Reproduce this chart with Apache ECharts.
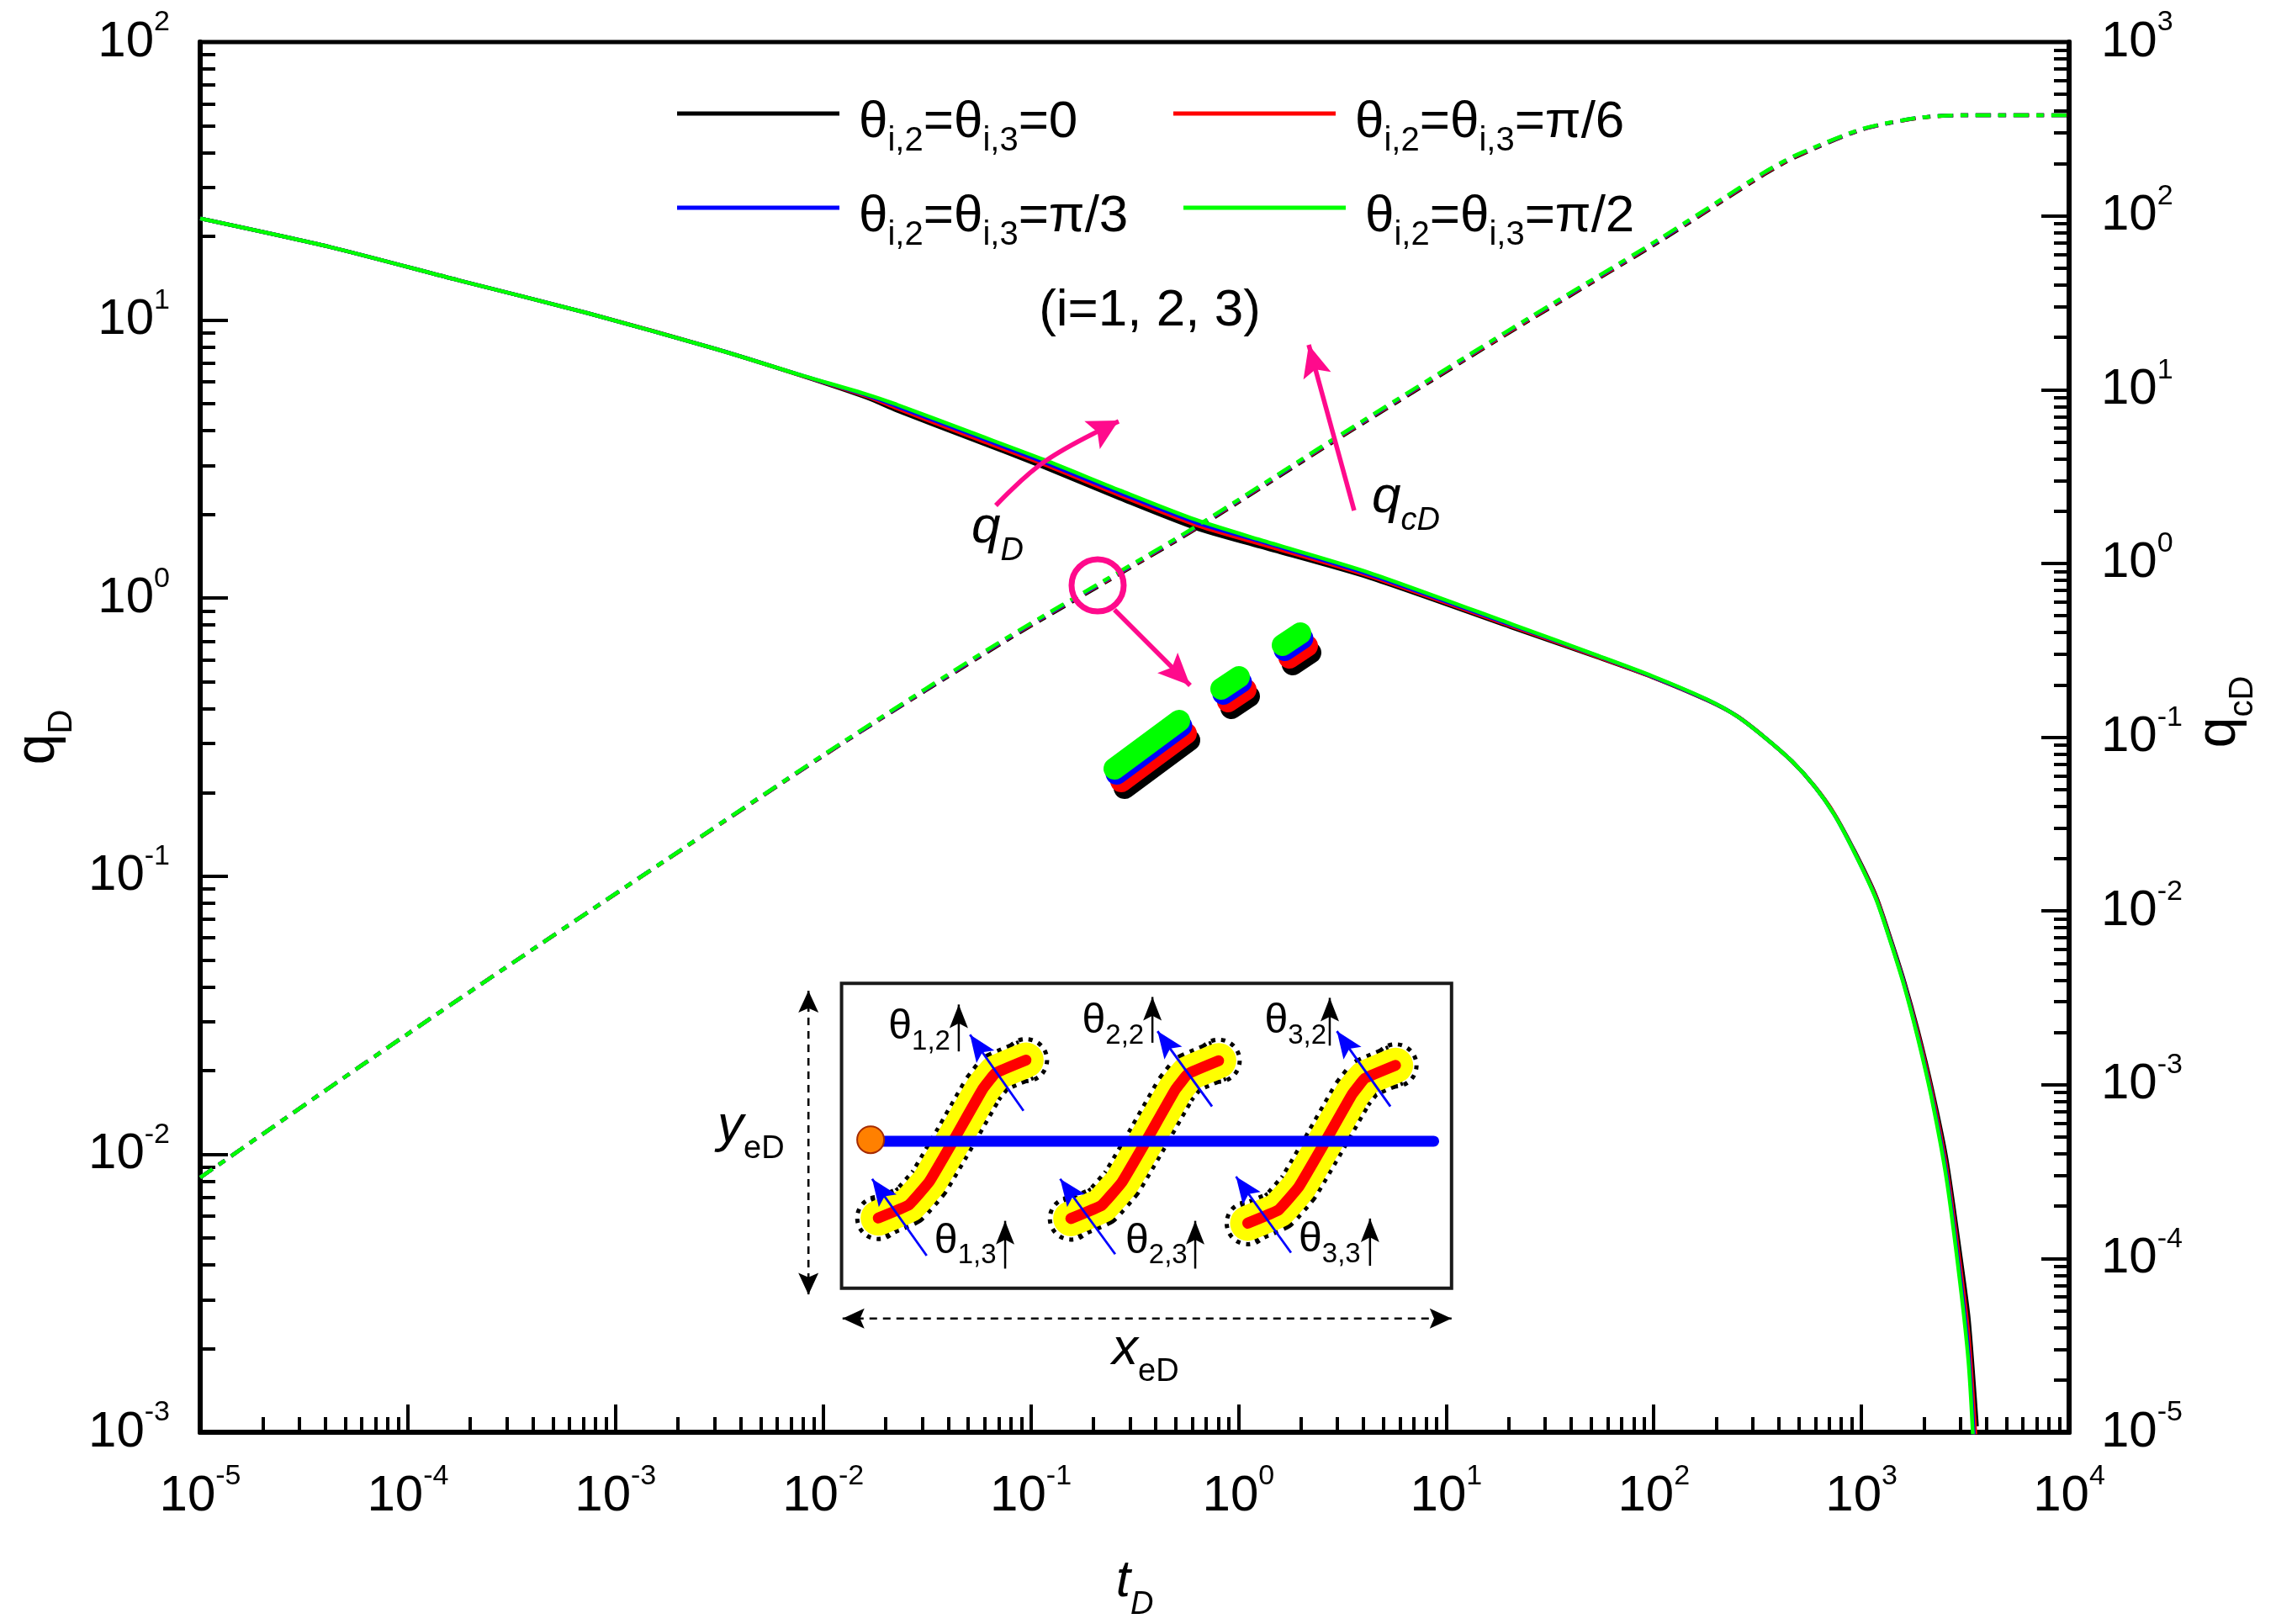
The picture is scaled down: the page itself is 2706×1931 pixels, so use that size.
<!DOCTYPE html>
<html><head><meta charset="utf-8">
<style>html,body{margin:0;padding:0;background:#fff}#c{width:2706px;height:1931px}</style>
<script src="https://cdn.jsdelivr.net/npm/echarts@6/dist/echarts.min.js"></script>
</head><body><div id="c"></div>
<script>
// ---------- data ----------
const tQ = [1e-5,4.24e-5,1.76e-4,7.33e-4,3.05e-3,7.6e-3,0.0163,0.0226,0.0513,0.1165,0.269,0.622,1.274,4.276,21.2,52.9,98.7,182,251,340,463,596,738,931,1175,1377,1614,1875,2195,2570,2985,3273,3436,3600];
const qBlack = [23.2,18.3,13.9,10.6,7.87,6.36,5.25,4.73,3.74,2.95,2.28,1.785,1.53,1.183,0.779,0.614,0.519,0.428,0.377,0.317,0.259,0.210,0.168,0.1223,0.085,0.0602,0.0415,0.0277,0.0170,0.0096,0.00443,0.00264,0.0017,0.00105];
const qRed   = [23.2,18.3,13.9,10.6,7.87,6.37,5.31,4.82,3.81,3.02,2.34,1.835,1.565,1.20,0.787,0.618,0.520,0.429,0.377,0.317,0.259,0.210,0.168,0.1214,0.0843,0.0594,0.0408,0.0270,0.0164,0.00895,0.0040,0.00227,0.00138,0.0008];
const qBlue  = [23.2,18.3,13.9,10.6,7.87,6.38,5.36,4.90,3.89,3.08,2.39,1.874,1.60,1.217,0.795,0.622,0.522,0.430,0.377,0.317,0.259,0.210,0.167,0.1208,0.0833,0.0588,0.0403,0.0263,0.0158,0.00847,0.00367,0.00198,0.00114,0.0006];
const qGreen = [23.2,18.3,13.9,10.6,7.87,6.38,5.40,4.97,3.95,3.14,2.44,1.914,1.62,1.234,0.801,0.624,0.524,0.431,0.377,0.317,0.259,0.210,0.167,0.1205,0.0828,0.0584,0.0398,0.0259,0.01545,0.00813,0.00345,0.00181,0.0010,0.00045];

const tC = [1e-5,6.04e-5,3.6e-4,2.14e-3,0.01268,0.0757,0.587,2.79,21.2,105,340,490,1014,1892,3040,1e4];
const cBlack = [2.92e-4,1.30e-3,5.53e-3,0.0230,0.0937,0.358,1.51,4.91,22.1,70.5,173,220,314,366,379,379];
const cRed   = [2.92e-4,1.30e-3,5.53e-3,0.0230,0.0942,0.363,1.53,4.98,22.4,71.4,175,222,315,366,379,379];
const cBlue  = [2.92e-4,1.30e-3,5.53e-3,0.0231,0.0946,0.366,1.545,5.03,22.7,72.2,177,224,316,367,379,379];
const cGreen = [2.92e-4,1.30e-3,5.53e-3,0.0231,0.0951,0.370,1.56,5.08,22.9,72.9,178,225,317,367,379,379];

const legendNames = ['θi,2=θi,3=0','θi,2=θi,3=π/6','θi,2=θi,3=π/3','θi,2=θi,3=π/2'];
const legendEnds  = ['0','π/6','π/3','π/2'];
const colors = ['#000000','#ff0000','#0000ff','#00ff00'];
const qSeries = [qBlack,qRed,qBlue,qGreen];
const cSeries = [cBlack,cRed,cBlue,cGreen];

// ---------- styling ----------
const FF = '"Liberation Sans",Arial,sans-serif';
const pairs = (xs,ys)=>xs.map((x,i)=>[x,ys[i]]);
const powLabel = v => { const e=Math.round(Math.log10(v)); return '{b|10}{s|'+e+'}'; };
const powRich = {
  b:{fontFamily:FF,fontSize:60,lineHeight:80,color:'#000'},
  s:{fontFamily:FF,fontSize:34,lineHeight:34,verticalAlign:'top',color:'#000'}
};
const series = [];
qSeries.forEach((d,i)=>series.push({name:legendNames[i],type:'line',xAxisIndex:0,yAxisIndex:0,data:pairs(tQ,d),
  symbol:'none',smooth:0.25,z:3+i,lineStyle:{color:colors[i],width:4.5},itemStyle:{color:colors[i]}}));
cSeries.forEach((d,i)=>series.push({name:'qcD '+legendNames[i],type:'line',xAxisIndex:0,yAxisIndex:1,data:pairs(tC,d),
  symbol:'none',smooth:0.25,z:3+i,lineStyle:{color:colors[i],width:4.5,type:[18,9,9,9]},itemStyle:{color:colors[i]}}));

const legendRich = {
  m:{fontFamily:FF,fontSize:62,lineHeight:84,color:'#000'},
  u:{fontFamily:FF,fontSize:40,lineHeight:40,verticalAlign:'bottom',color:'#000'}
};
const legendPos = [[805,115],[1395,115],[805,227],[1407,227]];
const legends = legendNames.map((n,i)=>({
  data:[n],left:legendPos[i][0],top:legendPos[i][1],padding:0,itemWidth:193,itemHeight:5,icon:'rect',selectedMode:false,
  formatter:()=>'{m|θ}{u|i,2}{m|=θ}{u|i,3}{m|='+legendEnds[i]+'}',
  textStyle:{rich:legendRich,padding:[22,0,0,18]}
}));

// ---------- annotation drawing helpers ----------
const Z2=(x,y)=>[820+x/1.6505,1140+y/2.904];
const G=[];
const line=(pts,color,w,extra={},z=20)=>G.push({type:'polyline',z,shape:{points:pts,smooth:extra.smooth||0},style:{stroke:color,fill:null,lineWidth:w,lineCap:extra.cap||'butt',lineJoin:'round',lineDash:extra.dash||null}});
const head=(from,to,L,W,color,z=21,notch=0.8)=>{
  const dx=to[0]-from[0],dy=to[1]-from[1],d=Math.hypot(dx,dy),ux=dx/d,uy=dy/d;
  const bx=to[0]-ux*L,by=to[1]-uy*L,nx=to[0]-ux*L*notch,ny=to[1]-uy*L*notch;
  G.push({type:'polygon',z,shape:{points:[to,[bx-uy*W,by+ux*W],[nx,ny],[bx+uy*W,by-ux*W]]},style:{fill:color}});
};
const arrow=(from,to,color,w,L,W,extra,z=21)=>{line([from,to],color,w,extra||{},z);head(from,to,L,W,color,z+1);};
const label=(x,y,text,rich,z=25)=>G.push({type:'text',z,x,y,style:{text,rich,fill:'#000',align:'left',verticalAlign:'middle',font:'60px '+FF}});

// (i=1, 2, 3)
G.push({type:'text',z:25,x:1367,y:370,style:{text:'(i=1, 2, 3)',fill:'#000',font:'62px '+FF,align:'center',verticalAlign:'middle'}});

// curve annotations
const PINK='#ff0a8c';
line([[1184,601],[1243,548],[1330,501]],PINK,5.5,{smooth:0.4});
head([1243,548],[1330,500],36,19,PINK);
const italicRich=(f,sf,lh)=>({m:{fontFamily:FF,fontStyle:'italic',fontSize:f,lineHeight:lh,color:'#000'},u:{fontFamily:FF,fontStyle:'italic',fontSize:sf,lineHeight:sf,verticalAlign:'bottom',color:'#000'}});
label(1155,628,'{m|q}{u|D}',italicRich(62,38,92));
arrow([1610,607],[1556,410],PINK,5.5,38,17);
label(1631,592,'{m|q}{u|cD}',italicRich(62,38,92));
G.push({type:'circle',z:22,shape:{cx:1305,cy:696,r:31},style:{stroke:PINK,fill:null,lineWidth:7}});
arrow([1325,725],[1415,815],PINK,5.5,38,17);

// magnified stack of the four curves
const blobColors=['#000000','#ff0000','#0000ff','#00ff00'];
const blobOffset=[[12,23],[8,15],[2.5,6],[0,0]];
[[[1325,914],[1402,857]],[[1452,819],[1473,805]],[[1525,767],[1546,753]]].forEach(seg=>{
  blobColors.forEach((c,i)=>{
    const o=blobOffset[i];
    line(seg.map(p=>[p[0]+o[0],p[1]+o[1]]),c,26,{cap:'round'},23+i*0.01);
  });
});

// inset schematic
const [bx0,by0]=Z2(298,85),[bx1,by1]=Z2(1495,1138);
G.push({type:'rect',z:30,shape:{x:bx0,y:by0,width:bx1-bx0,height:by1-by0},style:{fill:'#fff',stroke:'#1a1a1a',lineWidth:4}});
const frac=[[370,895],[430,850],[470,770],[520,620],[575,450],[600,395],[660,350]];
[[0,0],[378,2],[725,18]].forEach(off=>{
  const pts=frac.map(p=>Z2(p[0]+off[0],p[1]+off[1]));
  const ends=[pts[0],pts[pts.length-1]];
  ends.forEach(e=>G.push({type:'circle',z:31,shape:{cx:e[0],cy:e[1],r:25},style:{stroke:'#000',fill:null,lineWidth:5,lineDash:[5,7]}}));
  line(pts,'#000',51,{smooth:0.08,dash:[5,7]},31);
  line(pts,'#ffff00',42,{smooth:0.08,cap:'round'},32);
  line(pts,'#ff0000',13,{smooth:0.08,cap:'round'},33);
});
line([Z2(380,630),Z2(1460,630)],'#0000ff',13,{cap:'round'},34);
const oc=Z2(355,625);
G.push({type:'circle',z:35,shape:{cx:oc[0],cy:oc[1],r:16},style:{fill:'#ff8000',stroke:'#a52a00',lineWidth:2}});

[[655,525,550,262],[1025,510,918,250],[1375,510,1270,250],[465,1025,358,760],[835,1020,727,760],[1180,1015,1072,752]].forEach(a=>{
  arrow(Z2(a[0],a[1]),Z2(a[2],a[3]),'#0000ff',2.8,32,13,{},36);
});
[[528,320,158],[908,290,132],[1256,300,135],[619,1070,905],[992,1070,905],[1335,1060,897]].forEach(a=>{
  arrow(Z2(a[0],a[1]),Z2(a[0],a[2]),'#000',2.5,28,11,{},36);
});
const thetaRich={m:{fontFamily:FF,fontSize:50,lineHeight:68,color:'#000'},u:{fontFamily:FF,fontSize:33,lineHeight:33,verticalAlign:'bottom',color:'#000'}};
[['1,2',390,235],['2,2',770,215],['3,2',1128,215],['1,3',480,975],['2,3',855,975],['3,3',1195,970]].forEach(t=>{
  const p=Z2(t[1],t[2]);
  label(p[0],p[1],'{m|θ}{u|'+t[0]+'}',thetaRich,37);
});
// domain size arrows
const yA=Z2(233,110),yB=Z2(233,1160),xA=Z2(300,1242),xB=Z2(1495,1242);
line([yA,yB],'#000',2.6,{dash:[9,7]},36);head(yB,yA,26,12,'#000');head(yA,yB,26,12,'#000');
line([xA,xB],'#000',2.6,{dash:[9,7]},36);head(xB,xA,26,12,'#000');head(xA,xB,26,12,'#000');
const domRich={m:{fontFamily:FF,fontStyle:'italic',fontSize:62,lineHeight:92,color:'#000'},u:{fontFamily:FF,fontSize:38,lineHeight:38,verticalAlign:'bottom',color:'#000'}};
label(853,1340,'{m|y}{u|eD}',domRich);
label(1322,1605,'{m|x}{u|eD}',domRich);

// ---------- chart ----------
const nameRich={m:{fontFamily:FF,fontSize:66,lineHeight:96,color:'#000'},u:{fontFamily:FF,fontSize:40,lineHeight:40,verticalAlign:'bottom',color:'#000'},sp:{width:60,fontSize:10}};
const axisCommon={type:'log',logBase:10,interval:1,
  splitLine:{show:false},
  axisLine:{show:true,onZero:false,lineStyle:{color:'#000',width:6}},
  axisTick:{show:true,inside:true,length:33,lineStyle:{color:'#000',width:4}},
  minorTick:{show:true,splitNumber:9,length:18,lineStyle:{color:'#000',width:4}},
  axisLabel:{formatter:powLabel,rich:powRich,fontFamily:FF},
  nameLocation:'middle',nameRotate:90,
  nameTextStyle:{rich:nameRich}
};
const chart=echarts.init(document.getElementById('c'),null,{renderer:'canvas'});
chart.setOption({
  animation:false,backgroundColor:'#fff',
  grid:{left:238,right:246,top:50,bottom:228,outerBoundsMode:'none',containLabel:false,show:true,borderColor:'#000',borderWidth:5,backgroundColor:'transparent'},
  legend:legends,
  xAxis:[{...axisCommon,min:1e-5,max:1e4,name:'{m|t}{u|D}',nameRotate:0,nameGap:132,
    axisLabel:{...axisCommon.axisLabel,margin:36},
    nameTextStyle:{rich:italicRich(62,38,92)}}],
  yAxis:[
    {...axisCommon,min:1e-3,max:1e2,position:'left',name:'{m|q}{u|D}',nameGap:144,axisLabel:{...axisCommon.axisLabel,margin:36}},
    {...axisCommon,min:1e-5,max:1e3,position:'right',name:'{sp| }{m|q}{u|cD}',nameGap:100,axisLabel:{...axisCommon.axisLabel,margin:38}}
  ],
  series,
  graphic:{elements:G}
});
</script></body></html>
